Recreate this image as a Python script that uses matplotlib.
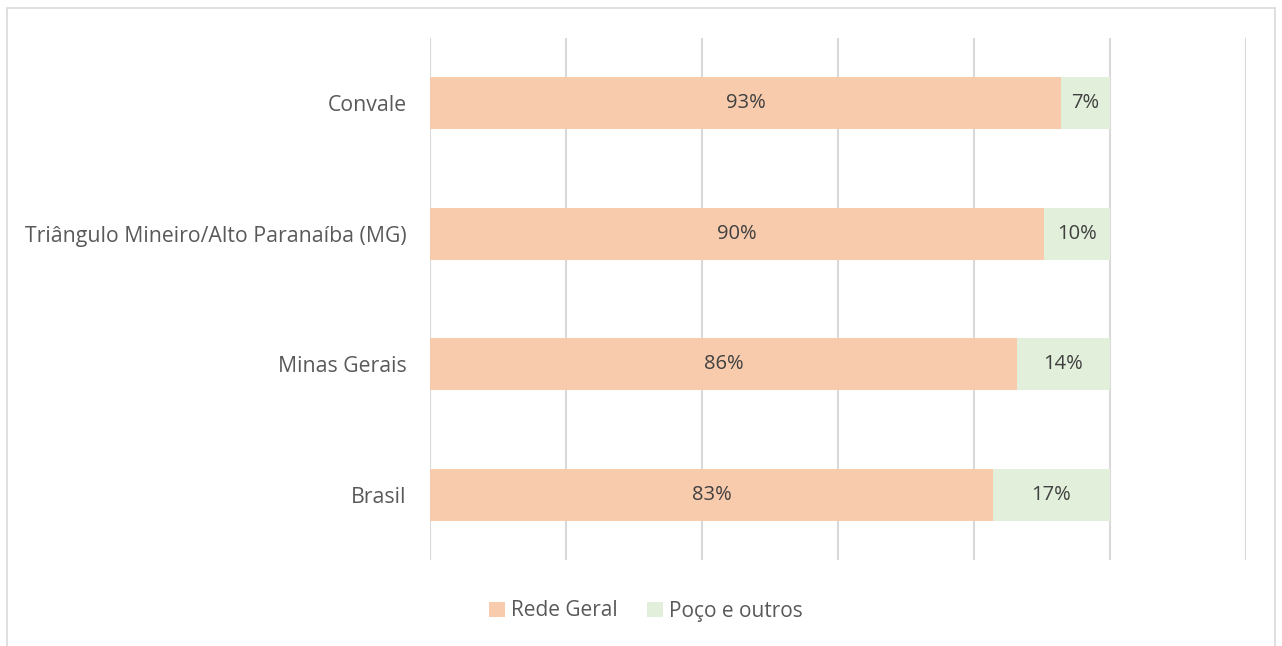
import matplotlib.pyplot as plt
from matplotlib.patches import Rectangle

# ------------------------------------------
# Data
# ------------------------------------------
regioes = ["Brasil", "Minas Gerais", "Triângulo Mineiro/Alto Paranaíba (MG)", "Convale"]
rede_geral = [0.828, 0.863, 0.903, 0.928]
poco_outros = [0.172, 0.137, 0.097, 0.072]

cor_rede = "#F8CBAD"
cor_poco = "#E2EFDA"
cor_texto = "#595959"

plt.rcParams['font.family'] = ['Open Sans', 'DejaVu Sans']

fig = plt.figure(figsize=(12.82, 6.46), dpi=100)
ax = fig.add_axes([430 / 1282, 1 - 560 / 646, (1246 - 430) / 1282, (560 - 38) / 646])

# borda do gráfico
fig.patches.append(Rectangle((7 / 1282, -0.05), (1275 - 7) / 1282, 1.05 - 8 / 646,
                             transform=fig.transFigure, fill=False,
                             edgecolor="#D9D9D9", linewidth=1.2))

y = range(len(regioes))
b1 = ax.barh(y, rede_geral, height=0.4, color=cor_rede, label="Rede Geral", zorder=2)
b2 = ax.barh(y, poco_outros, left=rede_geral, height=0.4, color=cor_poco,
             label="Poço e outros", zorder=2)

for bars, vals in [(b1, rede_geral), (b2, poco_outros)]:
    for bar, v in zip(bars, vals):
        ax.text(bar.get_x() + bar.get_width() / 2, bar.get_y() + bar.get_height() / 2,
                f"{round(v * 100):.0f}%", ha="center", va="center",
                fontsize=14.5, color="#404040", zorder=3)

ax.set_xlim(0, 1.2)
ax.set_ylim(-0.5, 3.5)
ax.set_xticks([0, 0.2, 0.4, 0.6, 0.8, 1.0, 1.2])
ax.set_xticklabels([])
ax.tick_params(axis="x", length=0)
ax.tick_params(axis="y", length=0, pad=17, labelsize=15.3, labelcolor=cor_texto)
ax.set_yticks(list(y))
ax.set_yticklabels(regioes)
ax.grid(axis="x", color="#D9D9D9", linewidth=1.5, zorder=0)
for s in ax.spines.values():
    s.set_visible(False)

fig.legend(loc="center", bbox_to_anchor=(646 / 1282, 1 - 611 / 646), ncol=2,
           frameon=False, fontsize=15, labelcolor=cor_texto,
           handlelength=0.75, handleheight=0.75, handletextpad=0.3, columnspacing=1.4)

fig.savefig("out.png", dpi=100)
